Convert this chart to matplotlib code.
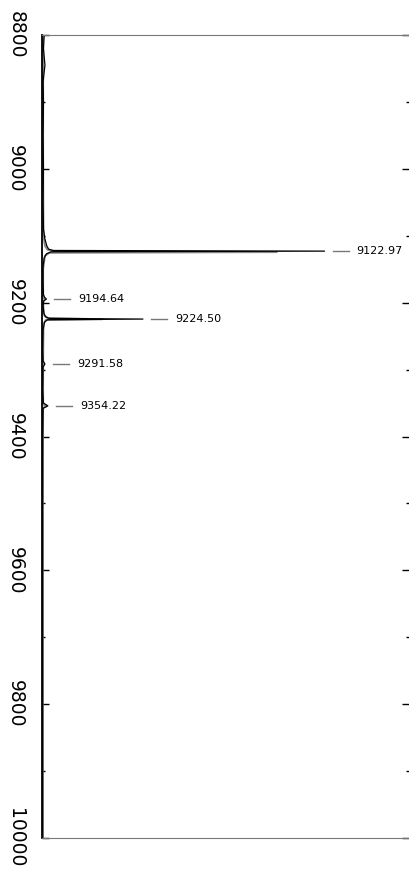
import matplotlib
matplotlib.use('Agg')
import matplotlib.pyplot as plt
import matplotlib.transforms as mtransforms

# black trace (mass, relative intensity)
mass_k = [8800, 8820, 8845, 8870, 8900, 8950, 9000, 9050, 9090, 9105, 9115, 9120,
          9122.0, 9122.97, 9124.0, 9127, 9133, 9145, 9170, 9188, 9192, 9194.64, 9197,
          9205, 9215, 9221, 9223.5, 9224.50, 9225.5, 9229, 9240, 9270, 9287, 9291.58,
          9296, 9330, 9350, 9354.22, 9358, 9400, 9500, 9700, 10000]
int_k = [0.6, 0.4, 0.8, 0.3, 0.4, 0.3, 0.4, 0.3, 0.4, 0.8, 1.3, 1.8,
         3.0, 77.0, 2.5, 1.2, 0.6, 0.3, 0.3, 0.4, 0.7, 1.2, 0.5,
         0.3, 0.5, 0.9, 2.0, 27.5, 1.5, 0.7, 0.3, 0.2, 0.3, 0.8,
         0.3, 0.2, 0.4, 1.6, 0.3, 0.2, 0.2, 0.2, 0.2]

# gray trace
mass_g = [8800, 8900, 9000, 9100, 9115, 9121, 9123.5, 9124.4, 9125.5, 9130, 9150,
          9192, 9195, 9198, 9218, 9223, 9224.8, 9226, 9232, 9290, 9292, 9294,
          9352, 9354.5, 9357, 9500, 10000]
int_g = [0.3, 0.3, 0.3, 0.4, 0.8, 1.5, 4.0, 64.0, 2.0, 0.8, 0.3,
         0.3, 0.8, 0.3, 0.5, 1.5, 16.5, 1.0, 0.4, 0.3, 0.6, 0.3,
         0.3, 1.2, 0.3, 0.2, 0.2]

# labelled peaks
lab_mass = [9122.97, 9194.64, 9224.50, 9291.58, 9354.22]
lab_int = [77.0, 1.2, 27.5, 0.8, 1.6]
lab_text = ['9122.97', '9194.64', '9224.50', '9291.58', '9354.22']

fig = plt.figure(figsize=(4.09, 8.77), dpi=100)
ax = fig.add_axes([42/409, 1-838/877, (409-42)/409, (838-35)/877])

ax.plot(int_g, mass_g, color='#888888', lw=1.4)
ax.plot(int_k, mass_k, color='black', lw=0.9)

ax.set_xlim(0, 100)
ax.set_ylim(10000, 8800)

# labels: short gray dash, then the mass
px = 100 / 367.0
for m, v, t in zip(lab_mass, lab_int, lab_text):
    tr = mtransforms.offset_copy(ax.transData, fig=fig, x=8, y=0, units='dots')
    ax.plot([v, v + 16 * px], [m, m], color='#777777', lw=1.0, transform=tr, clip_on=False)
    ax.annotate(t, xy=(v, m), xytext=(32, 0), textcoords='offset pixels',
                fontsize=8, ha='left', va='center', family='DejaVu Sans')

ax.set_yticks(range(8800, 10001, 200))
ax.set_yticks(range(8900, 10000, 200), minor=True)
ax.set_xticks([])
ax.tick_params(axis='y', which='major', direction='in', length=5, width=1,
               left=True, right=True, labelsize=13.5, pad=12)
ax.tick_params(axis='y', which='minor', direction='in', length=2.2, width=1,
               left=True, right=True)
for lbl in ax.get_yticklabels():
    lbl.set_rotation(270)
    lbl.set_va('center')

ax.spines['right'].set_visible(False)
ax.spines['left'].set_color('black')
ax.spines['left'].set_linewidth(1.3)
ax.spines['top'].set_color('#777777')
ax.spines['bottom'].set_color('#777777')

fig.savefig('out.png', dpi=100)
